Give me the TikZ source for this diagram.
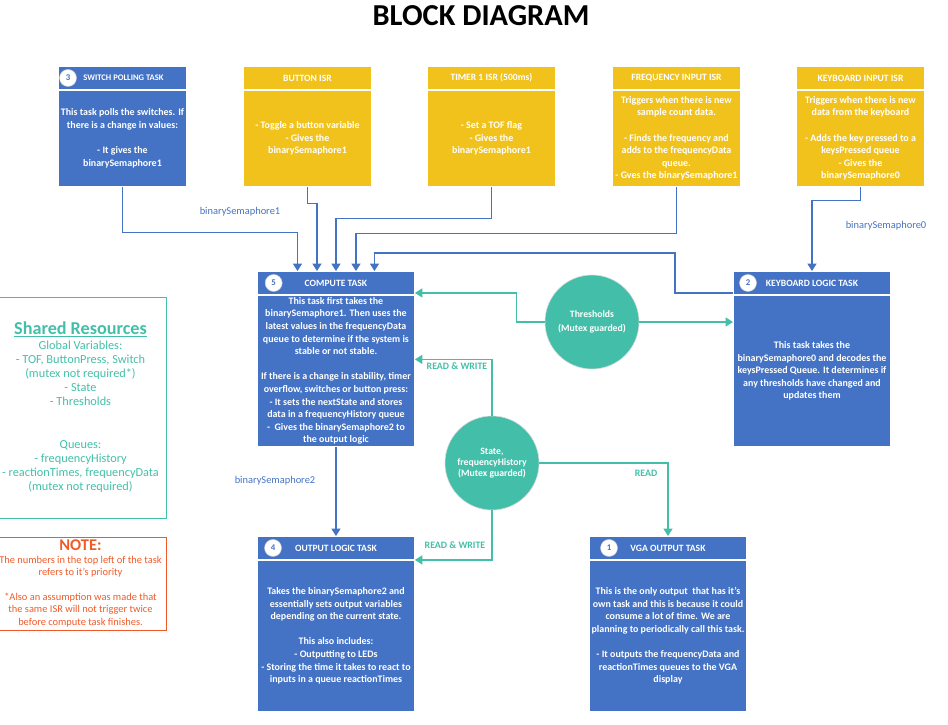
\documentclass[tikz,border=0pt]{standalone}
\usepackage{fontspec}
\setmainfont{Carlito}
\usepackage{tikz}
\usetikzlibrary{arrows.meta}
\usetikzlibrary{positioning}
\definecolor{tblue}{HTML}{4472C4}
\definecolor{isrgold}{HTML}{F1C21B}
\definecolor{mteal}{HTML}{43BFA9}
\definecolor{norange}{HTML}{F05A28}
\tikzset{head/.style = {fill=#1, draw=white, line width=0.8pt, text=white, inner sep=0,
                        font=\fontsize{8.2}{9}\selectfont\bfseries, minimum height=0.69cm}}
\tikzset{body/.style = {fill=#1, draw=white, line width=0.8pt, text=white, inner sep=0,
                        align=center, font=\fontsize{8.5}{10.75}\selectfont\bfseries}}
\tikzset{num/.style = {circle, fill=white, draw=gray!40, line width=0.4pt, inner sep=0,
                       minimum size=0.51cm, text=tblue, font=\fontsize{7.5}{8}\selectfont\bfseries}}
\tikzset{res/.style = {circle, fill=mteal, draw=gray!30, line width=0.5pt, minimum size=2.82cm,
                       text=white, align=center, font=\fontsize{8.3}{11.4}\selectfont\bfseries}}
\tikzset{blink/.style = {draw=tblue, line width=1pt, -{Triangle[length=0.22cm, width=0.27cm]}}}
\tikzset{tlink/.style = {draw=mteal, line width=1pt, -{Triangle[length=0.22cm, width=0.27cm]}}}
\tikzset{blbl/.style = {text=tblue, font=\fontsize{8.9}{10}\selectfont}}
\tikzset{tlbl/.style = {text=mteal, font=\fontsize{8.4}{10}\selectfont\bfseries}}

\begin{document}
\begin{tikzpicture}[x=0.03cm, y=-0.03cm]
    \useasboundingbox (0,0) rectangle (948,725);

    \node [font=\fontsize{26}{30}\selectfont\bfseries] (title) at (481,16) {BLOCK DIAGRAM};

    \node [head=tblue, minimum width=3.84cm, anchor=north west] (swh) at (58,66) {};
    \node [text=white, font=\fontsize{7.3}{8}\selectfont\bfseries, inner sep=0] (swt) at ([xshift=0.03cm]swh.center) {SWITCH POLLING TASK};
    \node [body=tblue, minimum width=3.84cm, minimum height=2.88cm, below=0pt of swh] (sw)
      {This task polls the switches. If\\there is a change in values:\\~\\- It gives the\\binarySemaphore1};
    \node [num] (swn) at ([xshift=0.3cm]swh.west) {3};

    \node [head=isrgold, minimum width=3.84cm, anchor=north west] (btnh) at (243,66) {BUTTON ISR};
    \node [body=isrgold, minimum width=3.84cm, minimum height=2.88cm, below=0pt of btnh] (btn)
      {- Toggle a button variable\\- Gives the\\binarySemaphore1};

    \node [head=isrgold, minimum width=3.84cm, anchor=north west] (tmrh) at (427,66) {TIMER 1 ISR (500ms)};
    \node [body=isrgold, minimum width=3.84cm, minimum height=2.88cm, below=0pt of tmrh] (tmr)
      {- Set a TOF flag\\- Gives the\\binarySemaphore1};

    \node [head=isrgold, minimum width=3.84cm, anchor=north west] (frqh) at (612,66) {FREQUENCY INPUT ISR};
    \node [body=isrgold, minimum width=3.84cm, minimum height=2.88cm, below=0pt of frqh] (frq)
      {Triggers when there is new\\sample count data.\\~\\- Finds the frequency and\\adds to the frequencyData\\queue.\\- Gves the binarySemaphore1};

    \node [head=isrgold, minimum width=3.84cm, anchor=north west] (kbih) at (796,66) {KEYBOARD INPUT ISR};
    \node [body=isrgold, minimum width=3.84cm, minimum height=2.88cm, below=0pt of kbih] (kbi)
      {Triggers when there is new\\data from the keyboard\\~\\- Adds the key pressed to a\\keysPressed queue\\- Gives the\\binarySemaphore0};

    \node [head=tblue, minimum width=4.71cm, anchor=north west] (cmph) at (257,271) {COMPUTE TASK};
    \node [body=tblue, minimum width=4.71cm, minimum height=4.53cm, below=0pt of cmph] (cmp)
      {This task first takes the\\binarySemaphore1. Then uses the\\latest values in the frequencyData\\queue to determine if the system is\\stable or not stable.\\~\\If there is a change in stability, timer\\overflow, switches or button press:\\- It sets the nextState and stores\\data in a frequencyHistory queue\\-\ \ Gives the binarySemaphore2 to\\the output logic};
    \node [num] (cmpn) at ([xshift=0.5cm]cmph.west) {5};

    \node [head=tblue, minimum width=4.71cm, anchor=north west] (kblh) at (733,271) {KEYBOARD LOGIC TASK};
    \node [body=tblue, minimum width=4.71cm, minimum height=4.53cm, below=0pt of kblh] (kbl)
      {This task takes the\\binarySemaphore0 and decodes the\\keysPressed Queue. It determines if\\any thresholds have changed and\\updates them};
    \node [num] (kbln) at ([xshift=0.45cm]kblh.west) {2};

    \node [head=tblue, minimum width=4.71cm, anchor=north west] (outh) at (257,536) {OUTPUT LOGIC TASK};
    \node [body=tblue, minimum width=4.71cm, minimum height=4.53cm, below=0pt of outh] (out)
      {Takes the binarySemaphore2 and\\essentially sets output variables\\depending on the current state.\\~\\This also includes:\\- Outputting to LEDs\\- Storing the time it takes to react to\\inputs in a queue reactionTimes};
    \node [num] (outn) at ([xshift=0.48cm]outh.west) {4};

    \node [head=tblue, minimum width=4.71cm, anchor=north west] (vgah) at (589,536) {VGA OUTPUT TASK};
    \node [body=tblue, minimum width=4.71cm, minimum height=4.53cm, below=0pt of vgah] (vga)
      {This is the only output\ \ that has it’s\\own task and this is because it could\\consume a lot of time. We are\\planning to periodically call this task.\\~\\- It outputs the frequencyData and\\reactionTimes queues to the VGA\\display};
    \node [num] (vgan) at ([xshift=0.6cm]vgah.west) {1};

    \node [res] (thr) at (592,322) {Thresholds\\(Mutex guarded)};
    \node [res, font=\fontsize{8.3}{9.6}\selectfont\bfseries] (st) at (492,463) {State,\\frequencyHistory\\(Mutex guarded)};

    \node [draw=mteal, line width=0.8pt, minimum width=5.13cm, minimum height=6.63cm, text=mteal, align=center,
           font=\fontsize{10.5}{12.1}\selectfont] (shres) at (80.5,407.5)
      {{\fontsize{15.5}{16}\selectfont\bfseries\underline{Shared Resources}}\\Global Variables:\\- TOF, ButtonPress, Switch\\(mutex not required*)\\- State\\- Thresholds\\~\\~\\Queues:\\- frequencyHistory\\- reactionTimes, frequencyData\\(mutex not required)};

    \node [draw=norange, line width=0.8pt, minimum width=5.13cm, minimum height=2.79cm, text=norange, align=center,
           font=\fontsize{8.9}{10.6}\selectfont, inner sep=0] (note) at (80.5,583.5)
      {{\fontsize{14}{15.5}\selectfont\bfseries NOTE:}\\The numbers in the top left of the task\\refers to it’s priority\\~\\*Also an assumption was made that\\the same ISR will not trigger twice\\before compute task finishes.};

    \draw [blink] (sw.south) -- ++(0,45.5) -| ([xshift=-1.155cm]cmph.north);
    \draw [blink] (btn.south) -- ++(0,17) -| ([xshift=-0.57cm]cmph.north);
    \draw [blink] (tmr.south) -- ++(0,32) -| (cmph.north);
    \draw [blink] (frq.south) -- ++(0,46.5) -| ([xshift=0.6cm]cmph.north);
    \draw [blink] ([yshift=0.06cm]kblh.south west) -- ++(-58,0) |- ([xshift=1.155cm,yshift=0.54cm]cmph.north)
                  -- ([xshift=1.155cm]cmph.north);
    \draw [blink] (kbi.south) -- ++(0,14) -| (kblh.north);
    \draw [blink] (cmp.south) -- (outh.north);

    \draw [tlink] (thr.west) -- ++(-28,0) |- ([yshift=0.06cm]cmph.south east);
    \draw [tlink] (thr.east) -- (thr.east -| kbl.west);
    \draw [tlink] (st.north) |- ([yshift=0.345cm]cmp.east);
    \draw [tlink] (st.south) |- (outh.south east);
    \draw [tlink] (st.east) -| (vgah.north);

    \node [blbl] (bs1) at (240,212) {binarySemaphore1};
    \node [blbl] (bs0) at (886,226) {binarySemaphore0};
    \node [blbl] (bs2) at (275,481) {binarySemaphore2};
    \node [tlbl] (rw1) at (457,366) {READ \& WRITE};
    \node [tlbl] (rw2) at (455,545) {READ \& WRITE};
    \node [tlbl] (rd) at (646,473) {READ};
  \end{tikzpicture}
\end{document}
